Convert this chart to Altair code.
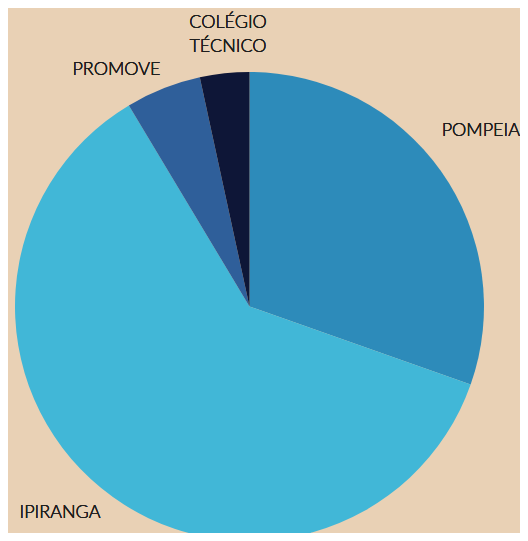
import altair as alt
import pandas as pd

categories = ["POMPEIA", "IPIRANGA", "PROMOVE", "COLÉGIO TÉCNICO"]
values = [30.4, 61.0, 5.2, 3.4]
colors = ["#2D8BBA", "#41B7D7", "#2F5F9A", "#0E1637"]

df = pd.DataFrame({"cat": categories, "val": values, "ord": list(range(len(categories)))})

pie = alt.Chart(df).mark_arc(radius=234.5, stroke=None).encode(
    theta=alt.Theta("val:Q", stack=True),
    order=alt.Order("ord:Q"),
    color=alt.Color("cat:N", scale=alt.Scale(domain=categories, range=colors), legend=None),
    x=alt.value(241.5),
    y=alt.value(298.5),
)

font = "Lato"
tcol = "#1e1e1e"
fs = 18

def label(text, x, y, align="center"):
    return alt.Chart(df).mark_text(
        text=text, font=font, fontSize=fs, fontWeight=300, color=tcol,
        align=align, baseline="middle", lineHeight=24
    ).encode(x=alt.value(x), y=alt.value(y))

labels = [
    label(["COLÉGIO", "TÉCNICO"], 220, 15),
    label("PROMOVE", 108.5, 62),
    label("POMPEIA", 512, 123, align="right"),
    label("IPIRANGA", 52, 505),
]

chart = alt.layer(pie, *labels).properties(
    width=512, height=525, background="#E9D1B5", padding=0, autosize=alt.AutoSizeParams(type="none")
).configure_view(stroke=None)

chart.save("out.html", embed_options={"renderer": "svg", "actions": False})
